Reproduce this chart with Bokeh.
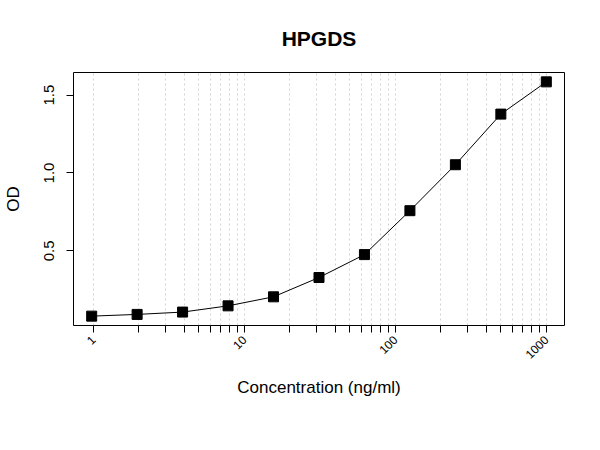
import math
from bokeh.plotting import figure
from bokeh.models import Range1d, FixedTicker, PrintfTickFormatter
from bokeh.embed import file_html
from bokeh.resources import INLINE

# standard curve, HPGDS
conc = [0.977, 1.953, 3.906, 7.8125, 15.625, 31.25, 62.5, 125, 250, 500, 1000]
od = [0.081, 0.092, 0.107, 0.147, 0.205, 0.329, 0.476, 0.758, 1.053, 1.378, 1.585]

x_ticks = [1, 10, 100, 1000]
x_minor = [m * d for d in (1, 10, 100) for m in range(2, 10)]
y_ticks = [0.5, 1.0, 1.5]

# R-style 4% padding
lx0, lx1 = math.log10(min(conc)), math.log10(max(conc))
px = (lx1 - lx0) * 0.04
py = (max(od) - min(od)) * 0.04

FW, FH = 491, 253

p = figure(frame_width=FW, frame_height=FH, x_axis_type="log",
           x_range=Range1d(10 ** (lx0 - px), 10 ** (lx1 + px)),
           y_range=Range1d(min(od) - py, max(od) + py),
           min_border_left=72, min_border_right=30, min_border_top=72,
           min_border_bottom=108,
           output_backend="svg", toolbar_location=None, title="HPGDS")

p.title.align = "center"
p.title.text_font = "Liberation Sans"
p.title.text_font_size = "21px"
p.title.text_font_style = "bold"
p.title.text_color = "black"
p.title.standoff = 46

p.outline_line_color = "black"
p.outline_line_width = 1
p.background_fill_color = "white"
p.border_fill_color = "white"

xt = FixedTicker(ticks=x_ticks, minor_ticks=x_minor)
p.xaxis.ticker = xt
p.xgrid.ticker = xt
p.xaxis.formatter = PrintfTickFormatter(format="%d")
p.xaxis.major_label_orientation = math.pi / 4
p.xaxis.major_label_text_font = "Liberation Sans"
p.xaxis.major_label_text_font_size = "12px"
p.xaxis.major_label_standoff = 5
p.xaxis.axis_label = "Concentration (ng/ml)"
p.xaxis.axis_label_standoff = 12
p.yaxis.axis_label = "OD"
p.yaxis.axis_label_standoff = 19
for ax in (p.xaxis, p.yaxis):
    ax.axis_line_color = None
    ax.major_tick_out = 7
    ax.major_tick_in = 0
    ax.major_tick_line_color = "black"
    ax.major_label_text_color = "black"
    ax.axis_label_text_color = "black"
    ax.axis_label_text_font = "Liberation Sans"
    ax.axis_label_text_font_size = "17px"
    ax.axis_label_text_font_style = "normal"
p.xaxis.minor_tick_out = 7
p.xaxis.minor_tick_in = 0
p.xaxis.minor_tick_line_color = "black"

p.yaxis.ticker = FixedTicker(ticks=y_ticks)
p.yaxis.formatter = PrintfTickFormatter(format="%.1f")
p.yaxis.major_label_orientation = "vertical"
p.yaxis.major_label_text_font = "Liberation Sans"
p.yaxis.major_label_text_font_size = "15px"
p.yaxis.major_label_standoff = 12
p.yaxis.minor_tick_line_color = None

p.xgrid.grid_line_color = "#d3d3d3"
p.xgrid.grid_line_dash = "2 3"
p.xgrid.minor_grid_line_color = "#d3d3d3"
p.xgrid.minor_grid_line_dash = "2 3"
p.ygrid.grid_line_color = None

p.line(conc, od, line_color="black", line_width=1)
p.scatter(conc, od, marker="square", size=10, fill_color="black",
          line_color="black")

open("out.html", "w").write(file_html(p, INLINE))
